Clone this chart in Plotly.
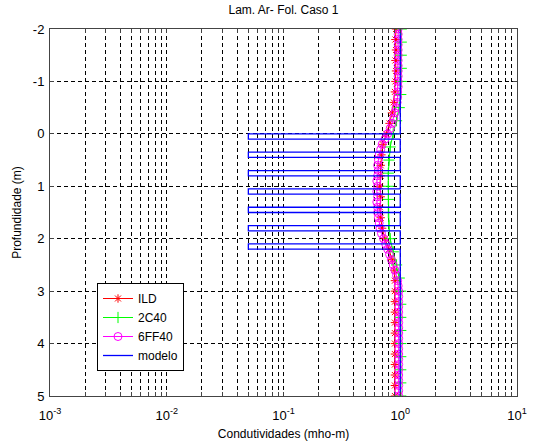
import plotly.graph_objects as go

# ---- data ----
ild_depth = [-2.0, -1.8, -1.6, -1.4, -1.2, -1.0, -0.8, -0.6, -0.4, -0.2, 0.0, 0.2, 0.4, 0.6,
             0.8, 1.0, 1.2, 1.4, 1.6, 1.8, 2.0, 2.2, 2.4, 2.6, 2.8, 3.0, 3.2, 3.4, 3.6, 3.8,
             4.0, 4.2, 4.4, 4.6, 4.8, 5.0]
ild_cond = [0.92, 0.91, 0.92, 0.91, 0.92, 0.91, 0.90, 0.88, 0.85, 0.81, 0.76, 0.71, 0.69, 0.68,
            0.68, 0.67, 0.68, 0.67, 0.68, 0.70, 0.74, 0.80, 0.85, 0.89, 0.90, 0.90, 0.90, 0.90,
            0.90, 0.90, 0.90, 0.90, 0.90, 0.90, 0.90, 0.90]

c2c40_depth = [-2.0, -1.75, -1.5, -1.25, -1.0, -0.75, -0.5, -0.25, 0.0, 0.25, 0.5, 0.75, 1.0,
               1.25, 1.5, 1.75, 2.0, 2.25, 2.5, 2.75, 3.0, 3.25, 3.5, 3.75, 4.0, 4.25, 4.5,
               4.75, 5.0]
c2c40_cond = [1.02, 1.02, 1.02, 1.02, 1.02, 1.01, 0.98, 0.93, 0.87, 0.82, 0.80, 0.79, 0.79,
              0.79, 0.79, 0.80, 0.82, 0.87, 0.93, 0.98, 1.01, 1.01, 1.01, 1.01, 1.01, 1.01,
              1.01, 1.01, 1.01]

f6ff40_depth = [-2.0, -1.9, -1.8, -1.7, -1.6, -1.5, -1.4, -1.3, -1.2, -1.1, -1.0, -0.9, -0.8,
                -0.7, -0.6, -0.5, -0.4, -0.3, -0.2, -0.1, 0.0, 0.1, 0.2, 0.3, 0.4, 0.5, 0.6,
                0.7, 0.8, 0.9, 1.0, 1.1, 1.2, 1.3, 1.4, 1.5, 1.6, 1.7, 1.8, 1.9, 2.0, 2.1,
                2.2, 2.3, 2.4, 2.5, 2.6, 2.7, 2.8, 2.9, 3.0, 3.1, 3.2, 3.3, 3.4, 3.5, 3.6,
                3.7, 3.8, 3.9, 4.0, 4.1, 4.2, 4.3, 4.4, 4.5, 4.6, 4.7, 4.8, 4.9, 5.0]
f6ff40_cond = [0.96, 0.96, 0.96, 0.96, 0.96, 0.96, 0.96, 0.96, 0.96, 0.96, 0.96, 0.96, 0.95,
               0.95, 0.94, 0.92, 0.90, 0.88, 0.85, 0.82, 0.78, 0.74, 0.70, 0.68, 0.66, 0.65,
               0.64, 0.65, 0.64, 0.63, 0.64, 0.63, 0.64, 0.63, 0.64, 0.64, 0.65, 0.66, 0.67,
               0.69, 0.72, 0.75, 0.78, 0.81, 0.84, 0.87, 0.90, 0.93, 0.95, 0.96, 0.97, 0.97,
               0.97, 0.97, 0.97, 0.97, 0.97, 0.97, 0.97, 0.97, 0.97, 0.97, 0.97, 0.97, 0.97,
               0.97, 0.97, 0.97, 0.97, 0.97, 0.97]

model_layer_top = [0.0, 0.35, 0.7, 1.05, 1.4, 1.75, 2.1]
model_layer_bottom = [0.1, 0.45, 0.8, 1.15, 1.5, 1.85, 2.2]
model_layer_cond = 0.05
model_background_cond = 1.0
depth_range = [-2, 5]

x_tickvals = [m * 10 ** e for e in range(-3, 1) for m in range(1, 10)] + [10]
x_ticktext = [("10<sup>%d</sup>" % e if m == 1 else "") for e in range(-3, 1) for m in range(1, 10)] + ["10<sup>1</sup>"]
y_tickvals = [-2, -1, 0, 1, 2, 3, 4, 5]
y_ticktext = ["-2", "-1", "0", "1", "2", "3", "4", "5"]

# ---- build model step line ----
mx, my = [model_background_cond], [depth_range[0]]
for t, b in zip(model_layer_top, model_layer_bottom):
    mx += [model_background_cond, model_layer_cond, model_layer_cond, model_background_cond]
    my += [t, t, b, b]
mx.append(model_background_cond)
my.append(depth_range[1])

fig = go.Figure()
fig.add_trace(go.Scatter(x=ild_cond, y=ild_depth, name="ILD", mode="lines+markers",
                         line=dict(color="#ff0000", width=1),
                         marker=dict(symbol="asterisk-open", size=7, line=dict(color="#ff0000", width=1))))
fig.add_trace(go.Scatter(x=c2c40_cond, y=c2c40_depth, name="2C40", mode="lines+markers",
                         line=dict(color="#00ff00", width=1),
                         marker=dict(symbol="cross-thin-open", size=8, line=dict(color="#00ff00", width=1))))
fig.add_trace(go.Scatter(x=f6ff40_cond, y=f6ff40_depth, name="6FF40", mode="lines+markers",
                         line=dict(color="#ff00ff", width=1),
                         marker=dict(symbol="circle-open", size=8, line=dict(color="#ff00ff", width=1))))
fig.add_trace(go.Scatter(x=mx, y=my, name="modelo", mode="lines",
                         line=dict(color="#0000ff", width=1.3)))

font = "Liberation Sans, Arial, sans-serif"
fig.update_layout(
    width=536, height=445,
    margin=dict(l=50, r=19, t=29, b=49, pad=0),
    paper_bgcolor="white", plot_bgcolor="white",
    font=dict(family=font, size=12, color="black"),
    title=dict(text="Lam. Ar- Fol. Caso 1", x=0.5, xref="paper", xanchor="center",
               y=1 - 10 / 445, yref="container", yanchor="middle", font=dict(size=12)),
    showlegend=True,
    legend=dict(x=(97 - 50) / 467, y=(396 - 283) / 367, xanchor="left", yanchor="top",
                bgcolor="white", bordercolor="black", borderwidth=1,
                font=dict(size=12), tracegroupgap=0, itemwidth=30),
)
fig.update_xaxes(type="log", range=[-3, 1], tickvals=x_tickvals, ticktext=x_ticktext,
                 showgrid=True, gridcolor="black", griddash="4px,3px", gridwidth=1,
                 showline=True, linecolor="#444", linewidth=1, mirror="ticks",
                 ticks="inside", ticklen=4, tickcolor="#444", zeroline=False,
                 tickfont=dict(size=13), ticklabelstandoff=7, automargin=False,
                 title=dict(text="Condutividades (mho-m)", standoff=8, font=dict(size=12)))
fig.update_yaxes(range=[5, -2], tickvals=y_tickvals, ticktext=y_ticktext,
                 showgrid=True, gridcolor="black", griddash="4px,3px", gridwidth=1,
                 showline=True, linecolor="#444", linewidth=1, mirror="ticks",
                 ticks="inside", ticklen=4, tickcolor="#444", zeroline=False,
                 tickfont=dict(size=13), ticklabelstandoff=2, automargin=False,
                 title=dict(text="Profundidade (m)", standoff=8, font=dict(size=12)))

fig.write_html("out.html")
